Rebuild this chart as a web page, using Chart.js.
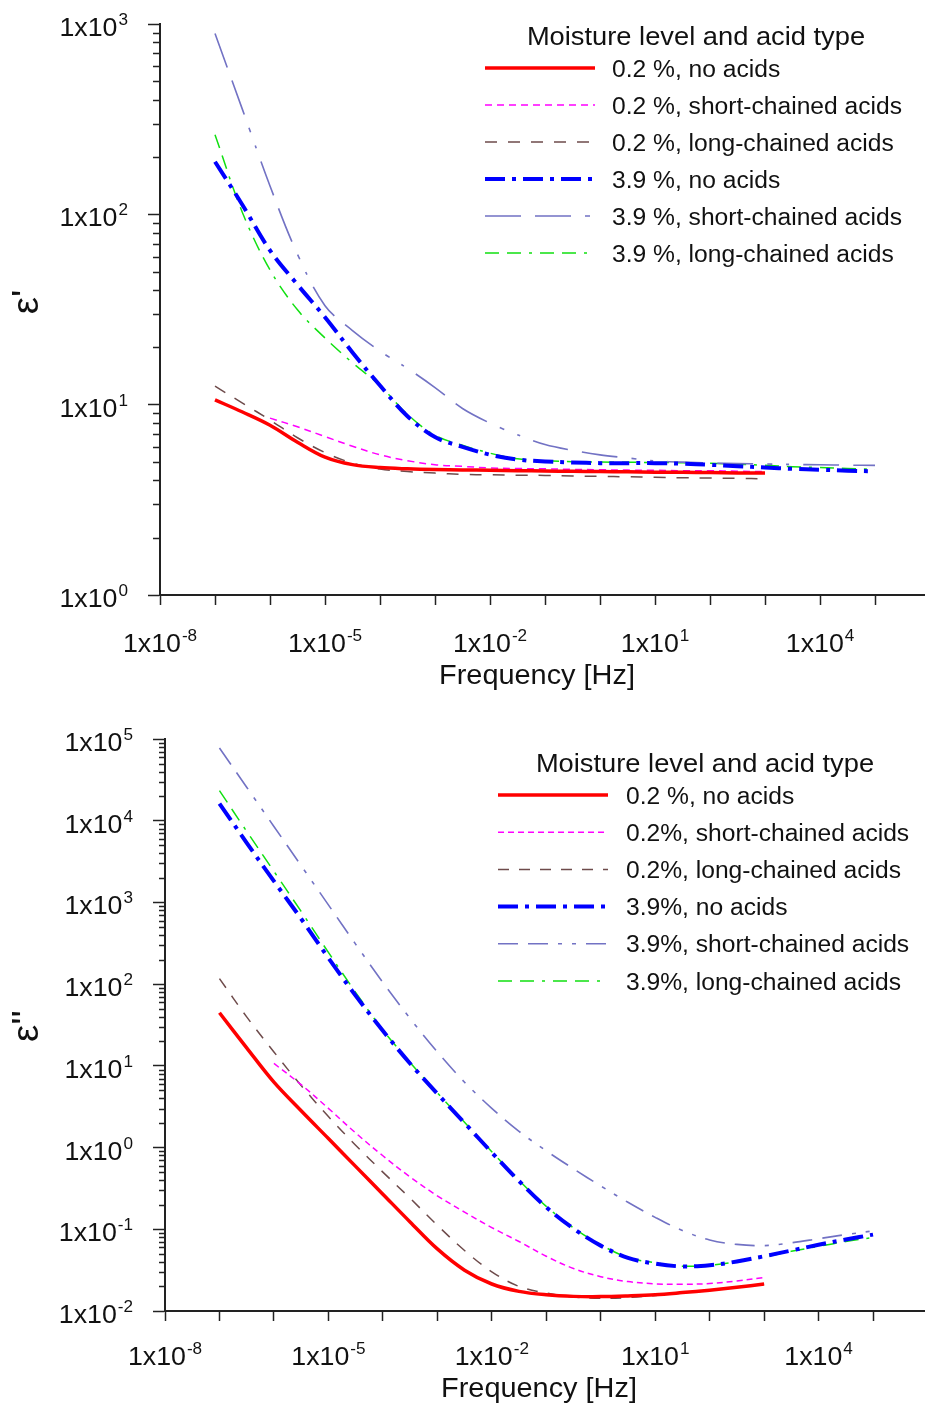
<!DOCTYPE html>
<html>
<head>
<meta charset="utf-8">
<title>Dielectric spectra</title>
<script src="https://cdn.jsdelivr.net/npm/chart.js@4.4.0/dist/chart.umd.min.js"></script>
<style>
  html, body { margin: 0; padding: 0; background: #fff; }
  #wrap { position: relative; width: 925px; height: 1408px; }
  canvas { position: absolute; left: 0; }
  #permChart { top: 0; }
  #lossChart { top: 700px; }
</style>
</head>
<body>
<div id="wrap">
  <canvas id="permChart" width="925" height="700"></canvas>
  <canvas id="lossChart" width="925" height="708"></canvas>
</div>
<script>
// frequency grid, Hz (half decades)
const freqs = [1e-7, 3.16e-7, 1e-6, 3.16e-6, 1e-5, 3.16e-5, 1e-4, 3.16e-4, 1e-3, 3.16e-3,
  1e-2, 3.16e-2, 0.1, 0.316, 1, 3.16, 10, 31.6, 100, 316, 1000, 3160, 1e4, 3.16e4, 1e5];

// tick values and labelled exponents
const xTickValues = [1e-8, 1e-7, 1e-6, 1e-5, 1e-4, 1e-3, 1e-2, 1e-1, 1, 10, 100, 1e3, 1e4, 1e5];
const xLabelExps = [-8, -5, -2, 1, 4];
const permYTicks = [1, 10, 100, 1000];
const permYLabelExps = [0, 1, 2, 3];
const lossYTicks = [1e-2, 1e-1, 1, 10, 100, 1e3, 1e4, 1e5];
const lossYLabelExps = [-2, -1, 0, 1, 2, 3, 4, 5];

// legend labels
const permLabels = ['0.2 %, no acids', '0.2 %, short-chained acids', '0.2 %, long-chained acids',
  '3.9 %, no acids', '3.9 %, short-chained acids', '3.9 %, long-chained acids'];
const lossLabels = ['0.2 %, no acids', '0.2%, short-chained acids', '0.2%, long-chained acids',
  '3.9%, no acids', '3.9%, short-chained acids', '3.9%, long-chained acids'];

// eps' (real part)
const permDryNone  = [10.6, 9.15, 7.8, 6.35, 5.3, 4.84, 4.67, 4.6, 4.56, 4.54, 4.52, 4.5, 4.48, 4.47, 4.45, 4.44, 4.42, 4.41, 4.4, 4.38, 4.37, null, null, null, null];
const permDryShort = [null, null, 8.5, 7.65, 6.8, 6.05, 5.45, 5.08, 4.83, 4.74, 4.65, 4.62, 4.6, 4.57, 4.55, 4.53, 4.52, 4.5, 4.5, 4.47, 4.45, null, null, null, null];
const permDryLong  = [12.5, 10.2, 8.3, 6.7, 5.6, 4.93, 4.59, 4.45, 4.37, 4.3, 4.28, 4.26, 4.25, 4.22, 4.2, 4.18, 4.15, 4.13, 4.12, 4.1, 4.08, null, null, null, null];
const permWetNone  = [189, 112, 64.6, 42.7, 28.8, 18.8, 12.6, 8.7, 6.76, 6.0, 5.46, 5.15, 5.03, 4.97, 4.93, 4.93, 4.93, 4.9, 4.83, 4.75, 4.68, 4.6, 4.55, 4.5, 4.46];
const permWetShort = [891, 355, 141, 61.7, 33.1, 24.5, 19.1, 15.5, 12.3, 9.55, 8.0, 6.95, 6.17, 5.75, 5.45, 5.25, 5.06, 4.99, 4.93, 4.9, 4.88, 4.85, 4.83, 4.81, 4.8];
const permWetLong  = [262, 102, 51, 31.5, 22.4, 16.6, 12.6, 8.9, 6.9, 6.12, 5.56, 5.2, 5.08, 5.02, 5.0, 4.98, 4.97, 4.95, 4.92, 4.87, 4.8, 4.72, 4.67, 4.62, 4.58];

// eps'' (imaginary part)
const lossDryNone  = [44.7, 16.6, 6.31, 2.82, 1.29, 0.589, 0.269, 0.123, 0.0575, 0.0316, 0.0214, 0.0174, 0.0158, 0.0151, 0.015, 0.0153, 0.0158, 0.0168, 0.018, 0.0195, 0.0214, null, null, null, null];
const lossDryShort = [null, null, 10.7, 5.89, 3.02, 1.51, 0.794, 0.437, 0.257, 0.162, 0.105, 0.0708, 0.0468, 0.0331, 0.0263, 0.0229, 0.0215, 0.0212, 0.0217, 0.0233, 0.0257, null, null, null, null];
const lossDryLong  = [117, 39.8, 14.8, 5.75, 2.4, 1.07, 0.501, 0.24, 0.112, 0.055, 0.0302, 0.02, 0.0166, 0.0148, 0.0143, 0.0146, 0.0155, 0.0166, 0.018, 0.0195, 0.0214, null, null, null, null];
const lossWetNone  = [16200, 5370, 1820, 631, 209, 72.4, 26.9, 10.7, 4.57, 2.0, 0.871, 0.389, 0.186, 0.102, 0.0631, 0.0447, 0.038, 0.0351, 0.0363, 0.0403, 0.0468, 0.055, 0.0646, 0.075, 0.0861];
const lossWetShort = [77600, 25700, 8510, 2820, 933, 309, 105, 38, 14.8, 6.31, 3.02, 1.58, 0.912, 0.55, 0.339, 0.214, 0.14, 0.0966, 0.0741, 0.0653, 0.0631, 0.0684, 0.0767, 0.0861, 0.0955];
const lossWetLong  = [23400, 7410, 2400, 776, 245, 79.4, 27.5, 11.0, 4.68, 2.04, 0.891, 0.398, 0.191, 0.104, 0.0646, 0.0452, 0.0389, 0.0353, 0.0363, 0.0401, 0.0459, 0.0537, 0.0617, 0.0708, 0.0794];

// line looks, same order as the series
const permStyles = [
  { color: '#ff0000', width: 3.5, dash: [] },
  { color: '#ff00ff', width: 1.5, dash: [7, 5] },
  { color: '#6e4b4b', width: 1.5, dash: [12, 11] },
  { color: '#0000ff', width: 4, dash: [20, 7, 4, 7] },
  { color: '#7272c4', width: 1.6, dash: [36, 14, 36, 14, 5, 14, 3, 14] },
  { color: '#11e011', width: 1.5, dash: [14, 8, 14, 8, 3, 8] }
];
const lossStyles = [
  { color: '#ff0000', width: 3.5, dash: [] },
  { color: '#ff00ff', width: 1.5, dash: [6, 4] },
  { color: '#6e4b4b', width: 1.5, dash: [11, 10] },
  { color: '#0000ff', width: 4, dash: [20, 7, 4, 7] },
  { color: '#7272c4', width: 1.6, dash: [20, 10, 20, 10, 4, 10, 4, 10] },
  { color: '#11e011', width: 1.5, dash: [14, 8, 14, 8, 3, 8] }
];

const FONT = '"Liberation Sans", Arial, Helvetica, sans-serif';
const SX = 1.07; // the original text is a bit wider than Arial

function putText(ctx, text, x, y, align) {
  const w = ctx.measureText(text).width * SX;
  const x0 = align === 'center' ? x - w / 2 : align === 'right' ? x - w : x;
  ctx.save();
  ctx.translate(x0, y);
  ctx.scale(SX, 1);
  ctx.textAlign = 'left';
  ctx.fillText(text, 0, 0);
  ctx.restore();
  return w;
}

// "1x10" with a raised exponent
function putPower(ctx, exp, x, y, align) {
  const base = '1x10', sup = String(exp);
  ctx.font = '25px ' + FONT;
  const wb = ctx.measureText(base).width * SX;
  ctx.font = '16px ' + FONT;
  const ws = ctx.measureText(sup).width * SX;
  const total = wb + 1 + ws;
  const x0 = align === 'center' ? x - total / 2 : align === 'right' ? x - total : x;
  ctx.font = '25px ' + FONT;
  putText(ctx, base, x0, y, 'left');
  ctx.font = '16px ' + FONT;
  putText(ctx, sup, x0 + wb + 1, y - 11, 'left');
}

const paperAxes = {
  id: 'paperAxes',
  afterDraw(chart, args, o) {
    const ctx = chart.ctx;
    const xs = chart.scales.x, ys = chart.scales.y;
    const left = chart.chartArea.left;
    ctx.save();
    ctx.fillStyle = '#111';
    ctx.textBaseline = 'alphabetic';

    // minor ticks on the value axis
    ctx.strokeStyle = '#222';
    ctx.lineWidth = 1.5;
    ctx.beginPath();
    for (let k = o.yDecades[0]; k < o.yDecades[1]; k++) {
      for (let m = 2; m <= 9; m++) {
        const py = Math.round(ys.getPixelForValue(m * Math.pow(10, k))) + 0.5;
        ctx.moveTo(left - o.minorLen, py);
        ctx.lineTo(left, py);
      }
    }
    ctx.stroke();

    // tick labels
    xLabelExps.forEach(e => putPower(ctx, e, xs.getPixelForValue(Math.pow(10, e)), o.xLabelBase, 'center'));
    o.yLabelExps.forEach(e => putPower(ctx, e, o.yLabelRight, ys.getPixelForValue(Math.pow(10, e)) + 12, 'right'));

    // axis titles
    ctx.font = '27px ' + FONT;
    putText(ctx, 'Frequency [Hz]', o.xTitleX, o.xTitleBase, 'center');
    ctx.save();
    ctx.translate(38, o.yTitleY);
    ctx.rotate(-Math.PI / 2);
    ctx.font = '36px ' + FONT;
    putText(ctx, o.yTitle, 0, 0, 'center');
    ctx.restore();

    // legend
    const lg = o.legend;
    ctx.font = '25.5px ' + FONT;
    putText(ctx, 'Moisture level and acid type', lg.titleX, lg.titleBase, 'center');
    chart.data.datasets.forEach((ds, i) => {
      const y = lg.rowY + i * lg.rowGap;
      ctx.save();
      ctx.strokeStyle = ds.borderColor;
      ctx.lineWidth = ds.borderWidth;
      ctx.setLineDash(ds.borderDash);
      ctx.beginPath();
      ctx.moveTo(lg.lineX0, y);
      ctx.lineTo(lg.lineX1, y);
      ctx.stroke();
      ctx.restore();
      ctx.font = '23px ' + FONT;
      putText(ctx, ds.label, lg.textX, y + 8.5, 'left');
    });
    ctx.restore();
  }
};

function makeChart(id, labels, series, styles, cfg) {
  const datasets = series.map((vals, i) => ({
    label: labels[i],
    data: freqs.map((f, j) => ({ x: f, y: vals[j] })),
    borderColor: styles[i].color,
    borderWidth: styles[i].width,
    borderDash: styles[i].dash,
    pointRadius: 0,
    fill: false,
    spanGaps: false,
    tension: 0.35
  }));
  const axisLine = { display: true, color: '#222', width: 2 };
  return new Chart(document.getElementById(id), {
    type: 'line',
    data: { datasets },
    options: {
      responsive: false,
      animation: false,
      devicePixelRatio: 1,
      layout: { padding: { top: cfg.padTop, right: 0, left: 0, bottom: 0 } },
      scales: {
        x: {
          type: 'logarithmic',
          min: 1e-8,
          max: cfg.xMax,
          afterBuildTicks: s => { s.ticks = xTickValues.map(v => ({ value: v })); },
          afterFit: s => { s.height = cfg.xHeight; },
          ticks: { display: false },
          grid: { drawOnChartArea: false, drawTicks: true, tickLength: 10, tickColor: '#222', tickWidth: 1.5 },
          border: axisLine
        },
        y: {
          type: 'logarithmic',
          min: cfg.yTicks[0],
          max: cfg.yTicks[cfg.yTicks.length - 1],
          afterBuildTicks: s => { s.ticks = cfg.yTicks.map(v => ({ value: v })); },
          afterFit: s => { s.width = cfg.yWidth; },
          ticks: { display: false },
          grid: { drawOnChartArea: false, drawTicks: true, tickLength: 12, tickColor: '#222', tickWidth: 1.5 },
          border: axisLine
        }
      },
      plugins: {
        legend: { display: false },
        tooltip: { enabled: false },
        paperAxes: cfg.deco
      }
    },
    plugins: [paperAxes]
  });
}

makeChart('permChart', permLabels,
  [permDryNone, permDryShort, permDryLong, permWetNone, permWetShort, permWetLong], permStyles, {
    padTop: 24, xMax: 8.1e5, xHeight: 105, yWidth: 160, yTicks: permYTicks,
    deco: {
      yDecades: [0, 3], minorLen: 7, yLabelExps: permYLabelExps, yLabelRight: 128,
      xLabelBase: 652, xTitleX: 537, xTitleBase: 684, yTitle: "\u03b5'", yTitleY: 302,
      legend: { titleX: 696, titleBase: 45, rowY: 68, rowGap: 37, lineX0: 485, lineX1: 595, textX: 612 }
    }
  });

makeChart('lossChart', lossLabels,
  [lossDryNone, lossDryShort, lossDryLong, lossWetNone, lossWetShort, lossWetLong], lossStyles, {
    padTop: 39, xMax: 9e5, xHeight: 97, yWidth: 165, yTicks: lossYTicks,
    deco: {
      yDecades: [-2, 5], minorLen: 6, yLabelExps: lossYLabelExps, yLabelRight: 133,
      xLabelBase: 665, xTitleX: 539, xTitleBase: 697, yTitle: "\u03b5''", yTitleY: 326,
      legend: { titleX: 705, titleBase: 72, rowY: 95, rowGap: 37.2, lineX0: 498, lineX1: 608, textX: 626 }
    }
  });
</script>
</body>
</html>
